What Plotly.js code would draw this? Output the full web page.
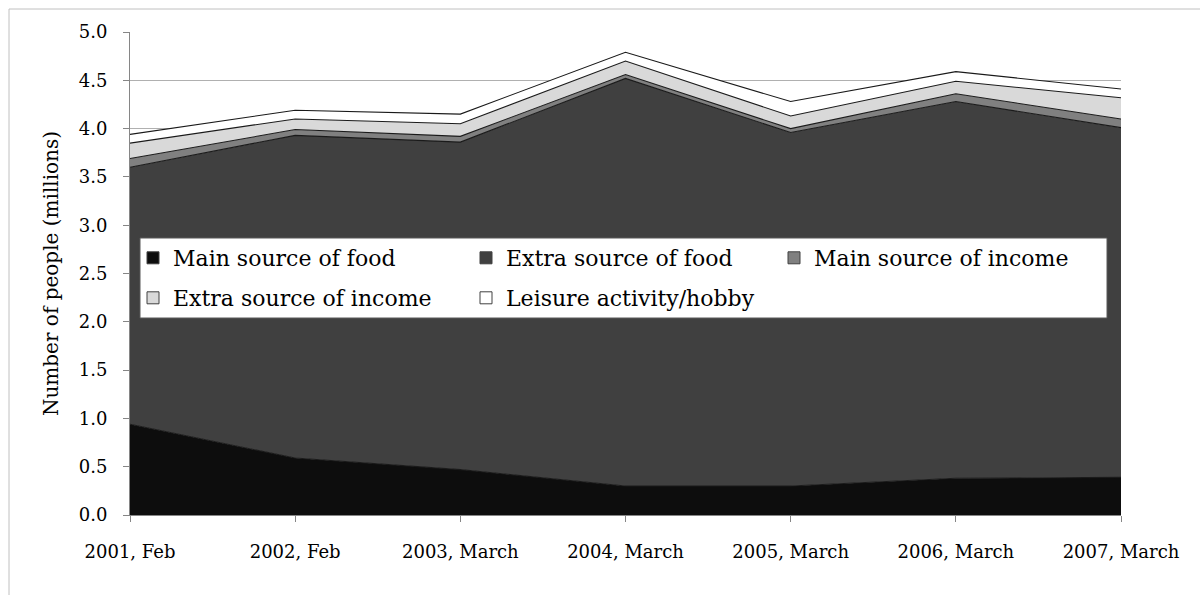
<!DOCTYPE html>
<html>
<head>
<meta charset="utf-8">
<script src="https://cdn.plot.ly/plotly-3.0.1.min.js"></script>
<style>
  html, body { margin: 0; padding: 0; background: #ffffff; }
  #chart { width: 1200px; height: 595px; }
</style>
</head>
<body>
<div id="chart"></div>
<script>
// Categories (x axis)
const categories = ["2001, Feb", "2002, Feb", "2003, March", "2004, March", "2005, March", "2006, March", "2007, March"];

// Series values (millions of people), stacked
const mainSourceOfFood   = [0.94, 0.59, 0.47, 0.30, 0.30, 0.38, 0.39];
const extraSourceOfFood  = [2.66, 3.34, 3.39, 4.22, 3.66, 3.90, 3.62];
const mainSourceOfIncome = [0.09, 0.06, 0.06, 0.04, 0.04, 0.08, 0.09];
const extraSourceOfIncome= [0.16, 0.11, 0.13, 0.14, 0.13, 0.13, 0.22];
const leisureHobby       = [0.09, 0.09, 0.10, 0.09, 0.15, 0.10, 0.09];

const seriesNames = ["Main source of food", "Extra source of food", "Main source of income", "Extra source of income", "Leisure activity/hobby"];
const seriesValues = [mainSourceOfFood, extraSourceOfFood, mainSourceOfIncome, extraSourceOfIncome, leisureHobby];
const seriesColors = ["#0d0d0d", "#404040", "#808080", "#d9d9d9", "#ffffff"];
const legendOf = ["legend", "legend", "legend", "legend2", "legend2"];
const legendWidths = [288, 263, 270, 288, 270];

const FONT = "DejaVu Serif, Liberation Serif, serif";

const traces = [];
// stacked areas
seriesValues.forEach(function(vals, i) {
  traces.push({
    type: "scatter",
    mode: "lines",
    x: categories,
    y: vals,
    name: seriesNames[i],
    stackgroup: "one",
    fillcolor: seriesColors[i],
    line: { color: "#1a1a1a", width: 1.1 },
    showlegend: false,
    hoverinfo: "x+y+name"
  });
});
// legend entries (square swatches)
seriesValues.forEach(function(vals, i) {
  traces.push({
    type: "bar",
    x: [null],
    y: [null],
    name: seriesNames[i],
    marker: { color: seriesColors[i], line: { color: "#404040", width: 1 } },
    showlegend: true,
    legend: legendOf[i],
    legendwidth: legendWidths[i],
    hoverinfo: "skip"
  });
});

const W = 1200, H = 595;
const L = 130, R = 79, T = 32, B = 80;
const pw = W - L - R, ph = H - T - B;
function px(x) { return (x - L) / pw; }
function py(y) { return (H - B - y) / ph; }

const layout = {
  width: W,
  height: H,
  margin: { l: L, r: R, t: T, b: B, pad: 0 },
  paper_bgcolor: "#ffffff",
  plot_bgcolor: "#ffffff",
  font: { family: FONT, color: "#000000", size: 18 },
  xaxis: {
    type: "category",
    range: [0, categories.length - 1],
    showgrid: false,
    zeroline: false,
    showline: true,
    linecolor: "#868686",
    linewidth: 1,
    ticks: "outside",
    ticklen: 6,
    tickcolor: "#868686",
    ticklabelstandoff: 14,
    tickfont: { family: FONT, size: 18, color: "#000000" },
    fixedrange: true
  },
  yaxis: {
    range: [0, 5],
    dtick: 0.5,
    tick0: 0,
    tickformat: ".1f",
    showgrid: true,
    gridcolor: "#b0b0b0",
    gridwidth: 1,
    zeroline: false,
    showline: true,
    linecolor: "#868686",
    linewidth: 1,
    ticks: "outside",
    ticklen: 6,
    tickcolor: "#868686",
    ticklabelstandoff: 12,
    tickfont: { family: FONT, size: 18, color: "#000000" },
    title: { text: "Number of people (millions)", font: { family: FONT, size: 20, color: "#000000" }, standoff: 14 },
    fixedrange: true
  },
  legend: {
    orientation: "h",
    x: px(133), xanchor: "left",
    y: py(237), yanchor: "top",
    bgcolor: "rgba(0,0,0,0)",
    borderwidth: 0,
    font: { family: FONT, size: 22, color: "#000000" },
    traceorder: "normal"
  },
  legend2: {
    orientation: "h",
    x: px(133), xanchor: "left",
    y: py(277), yanchor: "top",
    bgcolor: "rgba(0,0,0,0)",
    borderwidth: 0,
    font: { family: FONT, size: 22, color: "#000000" },
    traceorder: "normal"
  },
  shapes: [
    { type: "rect", xref: "paper", yref: "paper", layer: "above",
      x0: px(140), x1: px(1107), y0: py(318), y1: py(238),
      fillcolor: "#ffffff", line: { color: "#595959", width: 1 } },
    { type: "rect", xref: "paper", yref: "paper", layer: "below",
      x0: px(9), x1: px(1260), y0: py(660), y1: py(9),
      fillcolor: "rgba(0,0,0,0)", line: { color: "#c0c0c0", width: 1 } }
  ],
  showlegend: true,
  hovermode: false
};

Plotly.newPlot("chart", traces, layout, { displayModeBar: false, staticPlot: true });
</script>
</body>
</html>
